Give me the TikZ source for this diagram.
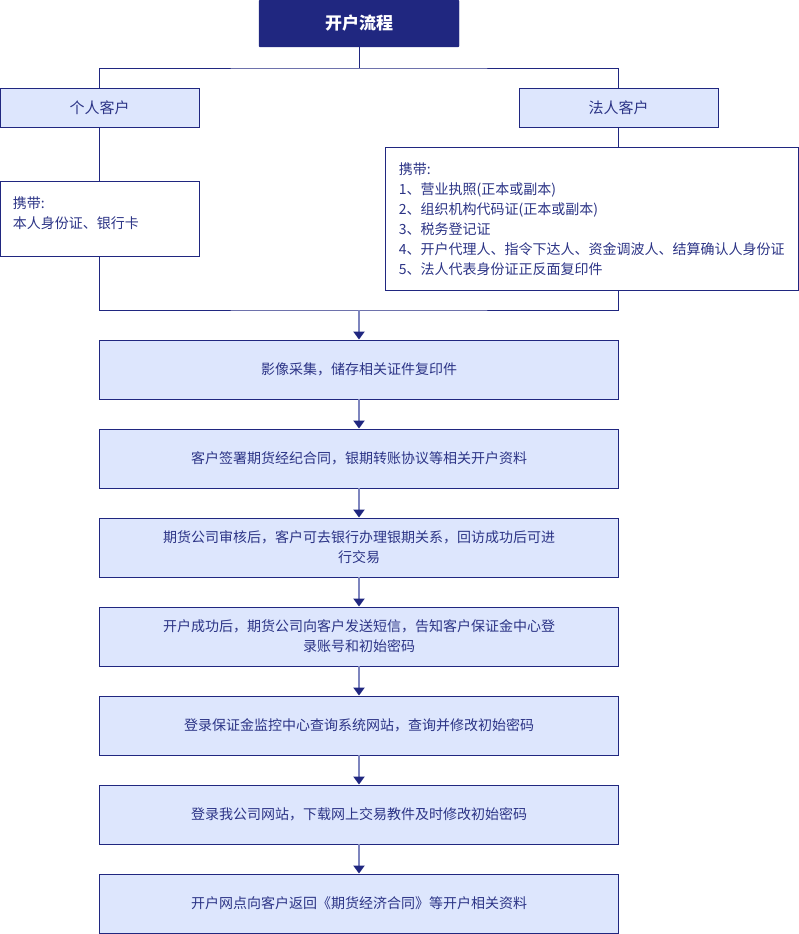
\documentclass[tikz,border=0pt]{standalone}
\usepackage{fontspec}
\setmainfont{Noto Sans CJK SC}
\usetikzlibrary{arrows.meta}

\definecolor{navy}{RGB}{32,39,128}
\definecolor{boxfill}{RGB}{221,230,253}
\definecolor{txtblue}{RGB}{44,52,134}
\definecolor{shaft}{RGB}{126,133,190}

\tikzset{
  headbox/.style={fill=navy, draw=navy, rounded corners=1pt, minimum width=200pt, minimum height=47pt,
    inner sep=0pt, text=white, font=\fontsize{17}{20}\selectfont\bfseries},
  kindbox/.style={draw=navy, line width=0.9pt, fill=boxfill, minimum width=199pt, minimum height=39pt,
    inner sep=0pt, text=txtblue, font=\fontsize{15}{20}\selectfont},
  notebox/.style={draw=navy, line width=0.9pt, fill=white, inner sep=0pt},
  notetext/.style={anchor=north west, align=left, inner sep=0pt, text=txtblue, font=\fontsize{14}{20}\selectfont},
  stepbox/.style={draw=navy, line width=0.9pt, fill=boxfill, minimum width=519pt, minimum height=59pt,
    inner sep=0pt, align=center, text=txtblue, font=\fontsize{14}{20}\selectfont},
  link/.style={draw=navy, line width=0.9pt},
  flow/.style={draw=shaft, line width=2pt, -{Triangle[width=11pt,length=8pt,color=navy]}}
}

\begin{document}
\begin{tikzpicture}[x=1pt,y=-1pt]
\useasboundingbox (0,0) rectangle (799,934);

% head and the two kinds of client
\node[headbox] (head) at (359,23.5) {开户流程};
\node[kindbox] (pers) at (99.5,107.5) {个人客户};
\node[kindbox] (corp) at (618.5,107.5) {法人客户};
\coordinate (split) at (359,68);
\draw[link, line width=0.6pt] (head.south) -- (split);
\draw[link] (pers.north) |- (split) -| (corp.north);

% what to bring
\node[notebox, minimum width=199pt, minimum height=75pt] (pnote) at (99.5,218.5) {};
\node[notetext] (ptext) at ([xshift=13pt,yshift=-16pt]pnote.north west) {携带:\\本人身份证、银行卡};
\node[notebox, minimum width=413pt, minimum height=143pt] (cnote) at (591.5,218.5) {};
\node[notetext] (ctext) at ([xshift=14pt,yshift=-16pt]cnote.north west)
  {携带:\\1、营业执照(正本或副本)\\2、组织机构代码证(正本或副本)\\3、税务登记证\\
   4、开户代理人、指令下达人、资金调波人、结算确认人身份证\\5、法人代表身份证正反面复印件};
\draw[link] (pers.south) -- (pnote.north);
\draw[link] (corp.south) -- (corp.south |- cnote.north);

%% merge
\coordinate (merge) at (359,310);
\draw[link] (pnote.south) |- (merge) -| (corp.south |- cnote.south);

% steps
\foreach \txt [count=\i] in {
  {影像采集，储存相关证件复印件},
  {客户签署期货经纪合同，银期转账协议等相关开户资料},
  {期货公司审核后，客户可去银行办理银期关系，回访成功后可进\\行交易},
  {开户成功后，期货公司向客户发送短信，告知客户保证金中心登\\录账号和初始密码},
  {登录保证金监控中心查询系统网站，查询并修改初始密码},
  {登录我公司网站，下载网上交易教件及时修改初始密码},
  {开户网点向客户返回《期货经济合同》等开户相关资料}}
  \node[stepbox] (s\i) at (359,{369.5+89*(\i-1)}) {\txt};

\draw[flow] (merge) -- (s1.north);
\foreach \i [evaluate=\i as \j using int(\i+1)] in {1,...,6}
  \draw[flow] (s\i.south) -- (s\j.north);
\end{tikzpicture}
\end{document}
